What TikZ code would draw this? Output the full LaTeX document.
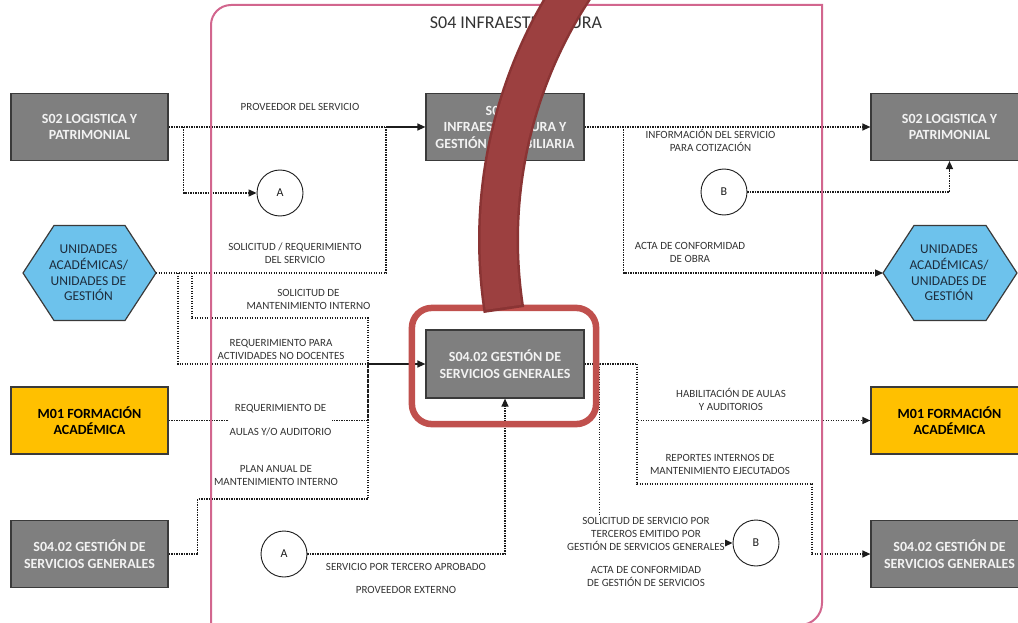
\documentclass[tikz,border=0pt]{standalone}
\usepackage{fontspec}
\setmainfont{Carlito}
\usetikzlibrary{arrows.meta,calc,backgrounds}
\definecolor{procfill}{HTML}{7F7F7F}
\definecolor{procedge}{HTML}{3A3A3A}
\definecolor{proctext}{HTML}{F2F2F2}
\definecolor{acadfill}{HTML}{FFC000}
\definecolor{unitfill}{HTML}{6DC2EC}
\definecolor{unittext}{HTML}{1E2D3D}
\definecolor{lanepink}{HTML}{D2668E}
\definecolor{focusred}{HTML}{C0504D}
\definecolor{bandfill}{HTML}{9C4040}
\definecolor{bandedge}{HTML}{8A3434}
\definecolor{flowink}{HTML}{1C1C1C}
\definecolor{labelink}{HTML}{333333}

\begin{document}
\begin{tikzpicture}[x=1pt,y=-1pt,
  proc/.style={draw=procedge, line width=1.2pt, fill=procfill, minimum width=157pt,
    minimum height=67pt, inner sep=0pt, align=center, text=proctext,
    font=\fontsize{14}{16.5}\selectfont\bfseries},
  acad/.style={proc, fill=acadfill, text=black},
  unit/.style={align=center, text=unittext, inner sep=0pt,
    font=\fontsize{13.5}{15.7}\selectfont},
  hexshape/.style={draw=procedge, line width=1.2pt, fill=unitfill},
  conn/.style={draw=flowink, circle, line width=0.9pt, minimum size=46pt, inner sep=0pt,
    font=\fontsize{12}{14}\selectfont, text=flowink, fill=white},
  flow/.style={draw=flowink, line width=1.3pt, dash pattern=on 1.4pt off 1.1pt},
  tip/.style={-{Triangle[length=8pt,width=7pt]}},
  merge/.style={draw=flowink, line width=1.3pt, tip},
  lbl/.style={align=center, text=labelink, font=\fontsize{11}{13}\selectfont, inner sep=0.5pt},
]
\useasboundingbox (0,0) rectangle (1018,623);

% process boxes
\node[proc] (S02L) at (89.5,127) {S02 LOGISTICA Y\\PATRIMONIAL};
\node[acad] (M01L) at (89.5,420.5) {M01 FORMACIÓN\\ACADÉMICA};
\node[proc] (S0402L) at (89.5,554) {S04.02 GESTIÓN DE\\SERVICIOS GENERALES};
\node[proc, minimum width=158pt] (S0401) at (505,127) {S04.01\\INFRAESTRUCTURA Y\\GESTIÓN INMOBILIARIA};
\node[proc, minimum width=158pt, minimum height=68pt] (S0402C) at (505,364) {S04.02 GESTIÓN DE\\SERVICIOS GENERALES};
\node[proc] (S02R) at (949.5,127) {S02 LOGISTICA Y\\PATRIMONIAL};
\node[acad] (M01R) at (949.5,420.5) {M01 FORMACIÓN\\ACADÉMICA};
\node[proc] (S0402R) at (949.5,554) {S04.02 GESTIÓN DE\\SERVICIOS GENERALES};

% hexagonal units
\coordinate (uniLc) at (89.5,273);
\coordinate (uniRc) at (950,273);
\coordinate (uniLe) at ($(uniLc)+(66.5,0)$);
\coordinate (uniRw) at ($(uniRc)+(-67,0)$);
\draw[hexshape] ($(uniLc)+(-66.5,0)$) -- ++(31,-47.5) -- ++(71,0) -- (uniLe)
  -- ++(-31,47.5) -- ++(-71,0) -- cycle;
\draw[hexshape] (uniRw) -- ++(31,-47.5) -- ++(72,0) -- ($(uniRc)+(67,0)$)
  -- ++(-31,47.5) -- ++(-72,0) -- cycle;
\node[unit] (uniL) at ($(uniLc)+(-1,0)$) {UNIDADES\\ACADÉMICAS/\\UNIDADES DE\\GESTIÓN};
\node[unit] (uniR) at ($(uniRc)+(-1,0)$) {UNIDADES\\ACADÉMICAS/\\UNIDADES DE\\GESTIÓN};

% off-page connectors
\node[conn] (A1) at (280,193) {A};
\node[conn] (B1) at (724,192) {B};
\node[conn] (A2) at (284,554) {A};
\node[conn] (B2) at (756,543) {B};

% flows
\begin{pgfonlayer}{background}
\coordinate (j1) at (386,127);
\coordinate (j2) at (368,364);
\coordinate (j3) at (368,318);
\coordinate (j4) at (368,499);
\coordinate (j5) at (637,364);
\coordinate (j6) at (812,484);
\draw[flow] (S02L.east) -- (j1);
\draw[flow, tip] (S02L.east) ++(15,0) |- (A1.west);
\draw[flow] (uniLe) -| (j1);
\draw[merge] (j1) -- (S0401.west);
\draw[flow] (uniLe) ++(22,0) |- (j2);
\draw[flow] (uniLe) ++(36,0) |- (j3) -- (j2);
\draw[flow] (M01L.east) -| (j2);
\draw[flow] (S0402L.east) -- ++(29,0) |- (j4) -- (j2);
\draw[merge] (j2) -- (S0402C.west);
\draw[flow, tip] (A2.east) -| (S0402C.south);
\draw[flow] (S0402C.east) -- (j5);
\draw[flow, tip] (j5) |- (M01R.west);
\draw[flow, tip] (j5) |- (j6) |- (S0402R.west);
\draw[flow, tip] (S0402C.east) -- ++(15,0) |- (B2.west);
\draw[flow, tip] (S0401.east) -- (S02R.west);
\draw[flow, tip] (S0401.east) ++(39,0) |- (uniRw);
\draw[flow, tip] (B1.east) -| (S02R.south);
\end{pgfonlayer}

% flow labels
\node[lbl] (lProv) at (300,107) {PROVEEDOR DEL SERVICIO};
\node[lbl] (lSol) at (295,253.5) {SOLICITUD / REQUERIMIENTO\\DEL SERVICIO};
\node[lbl] (lMant) at (308.5,299) {SOLICITUD DE\\MANTENIMIENTO INTERNO};
\node[lbl] (lNoDoc) at (281,349.5) {REQUERIMIENTO PARA\\ACTIVIDADES NO DOCENTES};
\node[lbl, fill=white] (lAulas) at (280.5,420) {REQUERIMIENTO DE\\[11pt]AULAS Y/O AUDITORIO};
\node[lbl] (lPlan) at (276,476) {PLAN ANUAL DE\\MANTENIMIENTO INTERNO};
\node[lbl] (lTerc) at (406,567) {SERVICIO POR TERCERO APROBADO};
\node[lbl] (lExt) at (406,590) {PROVEEDOR EXTERNO};
\node[lbl] (lCot) at (710.5,140.5) {INFORMACIÓN DEL SERVICIO\\PARA COTIZACIÓN};
\node[lbl] (lObra) at (690,252.5) {ACTA DE CONFORMIDAD\\DE OBRA};
\node[lbl] (lHab) at (731,399) {HABILITACIÓN DE AULAS\\Y AUDITORIOS};
\node[lbl] (lRep) at (720,464.5) {REPORTES INTERNOS DE\\MANTENIMIENTO EJECUTADOS};
\node[lbl, fill=white] (lSolT) at (646,534) {SOLICITUD DE SERVICIO POR\\TERCEROS EMITIDO POR\\GESTIÓN DE SERVICIOS GENERALES};
\node[lbl] (lActa) at (646,576) {ACTA DE CONFORMIDAD\\DE GESTIÓN DE SERVICIOS};

% swimlane of the S04 process
\draw[lanepink, line width=2pt] (211,640) -- (211,25) arc[start angle=180, end angle=270, radius=20]
  -- (822,5) -- (822,603) arc[start angle=0, end angle=90, radius=22] -- (600,625);
\node[text=labelink, font=\fontsize{18}{20}\selectfont] (title) at (516,22.5) {S04 INFRAESTRUCTURA};

% highlight frame around the sub-process
\draw[focusred, line width=6.5pt, rounded corners=20pt]
  ($(S0402C.north west)+(-13.5,-21.5)$) rectangle ($(S0402C.south east)+(11.5,25.5)$);

% curved pointer band
\draw[bandedge, line width=41pt] (956,240) ++(214:457.5) arc[start angle=214, end angle=171.2, radius=457.5];
\draw[bandfill, line width=36pt] (956,240) ++(214:457.5) arc[start angle=214, end angle=171.55, radius=457.5];
\end{tikzpicture}
\end{document}
